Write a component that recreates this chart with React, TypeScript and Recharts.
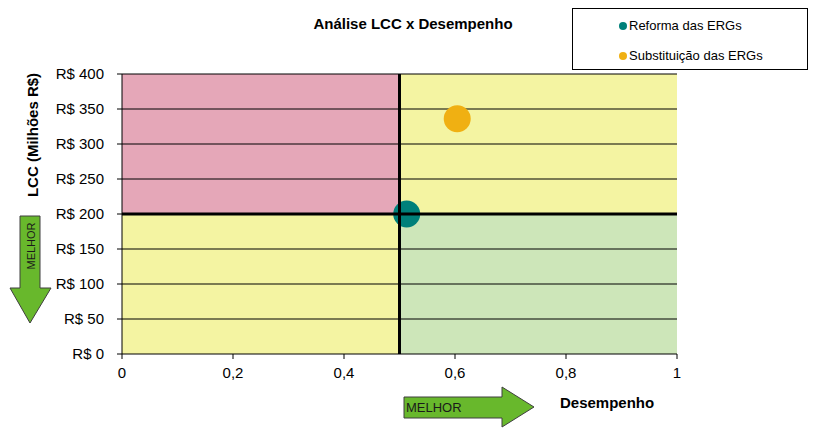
import {
  ScatterChart,
  Scatter,
  XAxis,
  YAxis,
  ReferenceArea,
  ReferenceLine,
} from "recharts";

const reformaData = [{ x: 0.513, y: 200 }];
const substituicaoData = [{ x: 0.604, y: 336 }];

const xTicks = [0, 0.2, 0.4, 0.6, 0.8, 1];
const yTicks = [0, 50, 100, 150, 200, 250, 300, 350, 400];

// quadrants: [x1, x2, y1, y2, fill]
const quadrants: [number, number, number, number, string][] = [
  [0, 0.5, 200, 400, "#E5A7B8"],
  [0.5, 1, 200, 400, "#F4F4A2"],
  [0, 0.5, 0, 200, "#F4F4A2"],
  [0.5, 1, 0, 200, "#CDE6B9"],
];

const legendItems = [
  { name: "Reforma das ERGs", color: "#00807A" },
  { name: "Substituição das ERGs", color: "#F0B012" },
];

const FONT = "'Liberation Sans', Arial, sans-serif";

const fmtX = (v: number) => (v === 0 || v === 1 ? String(v) : v.toFixed(1).replace(".", ","));
const fmtY = (v: number) => `R$ ${v}`;

function LegendBox() {
  return (
    <div
      style={{
        position: "absolute",
        left: 572,
        top: 8,
        width: 234,
        height: 60,
        border: "1px solid #000",
        background: "#fff",
        fontFamily: FONT,
        fontSize: 13,
      }}
    >
      {legendItems.map((it, i) => (
        <div
          key={it.name}
          style={{ position: "absolute", left: 46, top: 9 + i * 30, display: "flex", alignItems: "center" }}
        >
          <span
            style={{
              display: "inline-block",
              width: 8,
              height: 8,
              borderRadius: 4,
              background: it.color,
              marginRight: 2,
            }}
          />
          <span style={{ color: "#000" }}>{it.name}</span>
        </div>
      ))}
    </div>
  );
}

export default function App() {
  return (
    <div style={{ position: "absolute", left: 0, top: 0, width: 825, height: 434, background: "#fff" }}>
      <ScatterChart
        width={825}
        height={434}
        margin={{ top: 74, right: 148, bottom: 50, left: 62 }}
      >
        {quadrants.map(([x1, x2, y1, y2, fill], i) => (
          <ReferenceArea
            key={i}
            x1={x1}
            x2={x2}
            y1={y1}
            y2={y2}
            fill={fill}
            fillOpacity={1}
            stroke="none"
          />
        ))}
        {yTicks
          .filter((t) => t !== 0 && t !== 200)
          .map((t) => (
            <ReferenceLine key={t} y={t} stroke="#000" strokeWidth={1} />
          ))}
        <XAxis
          type="number"
          dataKey="x"
          domain={[0, 1]}
          ticks={xTicks}
          tickFormatter={fmtX}
          axisLine={{ stroke: "#000" }}
          tickLine={{ stroke: "#000" }}
          tickSize={5}
          tickMargin={8}
          tick={{ fill: "#000", fontSize: 15, fontFamily: FONT }}
          height={30}
        />
        <YAxis
          type="number"
          dataKey="y"
          domain={[0, 400]}
          ticks={yTicks}
          tickFormatter={fmtY}
          axisLine={{ stroke: "#000" }}
          tickLine={{ stroke: "#000" }}
          tickSize={5}
          tickMargin={13}
          tick={{ fill: "#000", fontSize: 15, fontFamily: FONT }}
          width={60}
        />
        <Scatter
          name="Reforma das ERGs"
          data={reformaData}
          fill="#00807A"
          isAnimationActive={false}
          shape={(p: any) => <circle cx={p.cx} cy={p.cy} r={13.5} fill="#00807A" />}
        />
        <Scatter
          name="Substituição das ERGs"
          data={substituicaoData}
          fill="#F0B012"
          isAnimationActive={false}
          shape={(p: any) => <circle cx={p.cx} cy={p.cy} r={13.5} fill="#F0B012" />}
        />
        <ReferenceLine x={0.5} stroke="#000" strokeWidth={3} zIndex={700} />
        <ReferenceLine y={200} stroke="#000" strokeWidth={3} zIndex={700} />
      </ScatterChart>
      <LegendBox />
      <svg
        width={825}
        height={434}
        style={{ position: "absolute", left: 0, top: 0, pointerEvents: "none" }}
        fontFamily={FONT}
      >
        <text x={413} y={29} textAnchor="middle" fontSize={15} fontWeight="bold">
          Análise LCC x Desempenho
        </text>
        <text
          x={0}
          y={0}
          transform="translate(38,135) rotate(-90)"
          textAnchor="middle"
          fontSize={15}
          fontWeight="bold"
        >
          LCC (Milhões R$)
        </text>
        {/* down arrow */}
        <polygon
          points="20,216 40,216 40,288 51,288 30,323 10,288 20,288"
          fill="#68B82C"
          stroke="#3F3F3F"
          strokeWidth={1}
        />
        <text
          x={0}
          y={0}
          transform="translate(35,246) rotate(-90)"
          textAnchor="middle"
          fontSize={11}
          fill="#1a1a1a"
        >
          MELHOR
        </text>
        {/* right arrow */}
        <polygon
          points="404,397 502,397 502,387 534,407 502,427 502,418 404,418"
          fill="#68B82C"
          stroke="#3F3F3F"
          strokeWidth={1}
        />
        <text x={406} y={412} fontSize={13} fill="#1a1a1a">
          MELHOR
        </text>
        <text x={560} y={408} fontSize={15} fontWeight="bold">
          Desempenho
        </text>
      </svg>
    </div>
  );
}
